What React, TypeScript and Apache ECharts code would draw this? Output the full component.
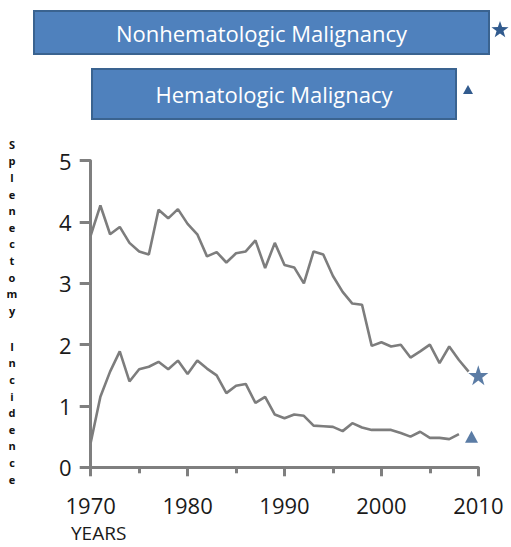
import React, { useEffect, useRef } from "react";
import * as echarts from "echarts";

const years: number[] = [
  1970, 1971, 1972, 1973, 1974, 1975, 1976, 1977, 1978, 1979,
  1980, 1981, 1982, 1983, 1984, 1985, 1986, 1987, 1988, 1989,
  1990, 1991, 1992, 1993, 1994, 1995, 1996, 1997, 1998, 1999,
  2000, 2001, 2002, 2003, 2004, 2005, 2006, 2007, 2008, 2009,
];

const nonHemValues: number[] = [
  3.78, 4.27, 3.8, 3.92, 3.66, 3.52, 3.47, 4.2, 4.06, 4.21,
  3.97, 3.8, 3.44, 3.51, 3.34, 3.49, 3.52, 3.7, 3.25, 3.66,
  3.3, 3.26, 3.0, 3.52, 3.47, 3.12, 2.86, 2.67, 2.65, 1.98,
  2.04, 1.97, 2.0, 1.79, 1.89, 2.0, 1.7, 1.97, 1.75, 1.56,
];

const hemYears: number[] = years.slice(0, 39);
const hemValues: number[] = [
  0.4, 1.15, 1.56, 1.89, 1.4, 1.6, 1.64, 1.72, 1.6, 1.74,
  1.52, 1.74, 1.61, 1.5, 1.21, 1.33, 1.36, 1.05, 1.15, 0.86,
  0.8, 0.86, 0.84, 0.68, 0.67, 0.66, 0.59, 0.72, 0.65, 0.61,
  0.61, 0.61, 0.56, 0.5, 0.58, 0.48, 0.48, 0.46, 0.54,
];

const starPoint: [number, number] = [2010, 1.5];
const trianglePoint: [number, number] = [2009.3, 0.5];

const legendLabels: string[] = ["Nonhematologic Malignancy", "Hematologic Malignacy"];
const yAxisWords: string[] = ["Splenectomy", "Incidence"];
const xAxisTitle = "YEARS";

const STAR_PATH =
  "path://M50,0 L61.8,35.1 L98.1,35.1 L68.8,56.9 L79.4,91.6 L50,70 L20.6,91.6 L31.2,56.9 L1.9,35.1 L38.2,35.1 Z";

function starPoints(cx: number, cy: number, r: number): number[][] {
  const pts: number[][] = [];
  for (let i = 0; i < 10; i++) {
    const ang = -Math.PI / 2 + (i * Math.PI) / 5;
    const rr = i % 2 === 0 ? r : r * 0.4;
    pts.push([cx + rr * Math.cos(ang), cy + rr * Math.sin(ang)]);
  }
  return pts;
}

export default function App() {
  const ref = useRef<HTMLDivElement>(null);
  useEffect(() => {
    if (!ref.current) return;
    const chart = echarts.init(ref.current, null, { renderer: "svg" });
    const font = "'Open Sans', 'Liberation Sans', sans-serif";
    const boxFill = "#4f81bd";
    const boxStroke = "#3a6390";
    const markColor = "#325b8e";

    chart.setOption({
      animation: false,
      backgroundColor: "#ffffff",
      grid: { left: 90.7, right: 32.7, top: 160.7, bottom: 79.7, containLabel: false },
      xAxis: {
        type: "value",
        min: 1970,
        max: 2010,
        interval: 10,
        axisLine: { show: true, lineStyle: { color: "#7f7f7f", width: 3 } },
        axisTick: { show: true, length: 9, lineStyle: { color: "#7f7f7f", width: 3 } },
        minorTick: { show: true, splitNumber: 2, length: 6, lineStyle: { color: "#7f7f7f", width: 3 } },
        splitLine: { show: false },
        axisLabel: { fontSize: 22, color: "#1a1a1a", fontFamily: font, margin: 27, formatter: (v: number) => String(v) },
      },
      yAxis: {
        type: "value",
        min: 0,
        max: 5,
        interval: 1,
        axisLine: { show: true, lineStyle: { color: "#7f7f7f", width: 3 } },
        axisTick: { show: true, length: 11, lineStyle: { color: "#7f7f7f", width: 3 } },
        splitLine: { show: false },
        axisLabel: { fontSize: 22, color: "#1a1a1a", fontFamily: font, margin: 19 },
      },
      series: [
        {
          type: "line",
          data: years.map((y, i) => [y, nonHemValues[i]]),
          showSymbol: false,
          lineStyle: { color: "#7d7d7d", width: 2.6 },
          z: 2,
        },
        {
          type: "line",
          data: hemYears.map((y, i) => [y, hemValues[i]]),
          showSymbol: false,
          lineStyle: { color: "#7d7d7d", width: 2.6 },
          z: 2,
        },
        {
          type: "scatter",
          data: [starPoint],
          symbol: STAR_PATH,
          symbolSize: 20,
          itemStyle: { color: markColor },
          z: 5,
        },
        {
          type: "scatter",
          data: [trianglePoint],
          symbol: "triangle",
          symbolSize: [13, 12],
          itemStyle: { color: markColor },
          z: 5,
        },
      ],
      graphic: [
        {
          type: "rect",
          shape: { x: 34, y: 11, width: 455, height: 43 },
          style: { fill: boxFill, stroke: boxStroke, lineWidth: 2 },
        },
        {
          type: "text",
          x: 261.5,
          y: 33,
          style: {
            text: legendLabels[0],
            fill: "#ffffff",
            font: `22px ${font}`,
            align: "center",
            verticalAlign: "middle",
          },
        },
        {
          type: "rect",
          shape: { x: 92, y: 69, width: 364, height: 50 },
          style: { fill: boxFill, stroke: boxStroke, lineWidth: 2 },
        },
        {
          type: "text",
          x: 274,
          y: 94,
          style: {
            text: legendLabels[1],
            fill: "#ffffff",
            font: `22px ${font}`,
            align: "center",
            verticalAlign: "middle",
          },
        },
        {
          type: "polygon",
          shape: { points: starPoints(500, 30, 9) },
          style: { fill: markColor },
        },
        {
          type: "polygon",
          shape: { points: [[468, 85], [473, 94], [463, 94]] },
          style: { fill: markColor },
        },
        {
          type: "text",
          x: 12,
          y: 136,
          style: {
            text: yAxisWords[0].split("").join("\n"),
            fill: "#111111",
            font: `bold 11px 'Open Sans', 'DejaVu Sans', sans-serif`,
            align: "center",
            verticalAlign: "top",
            lineHeight: 16.6,
          },
        },
        {
          type: "text",
          x: 12,
          y: 338,
          style: {
            text: yAxisWords[1].split("").join("\n"),
            fill: "#111111",
            font: `bold 11px 'Open Sans', 'DejaVu Sans', sans-serif`,
            align: "center",
            verticalAlign: "top",
            lineHeight: 16.6,
          },
        },
        {
          type: "text",
          x: 71,
          y: 533,
          style: {
            text: xAxisTitle,
            fill: "#1a1a1a",
            font: `19px ${font}`,
            align: "left",
            verticalAlign: "middle",
          },
        },
      ],
    });
    return () => chart.dispose();
  }, []);
  return (
    <div
      ref={ref}
      style={{ position: "fixed", left: 0, top: 0, width: 511, height: 547 }}
    />
  );
}
